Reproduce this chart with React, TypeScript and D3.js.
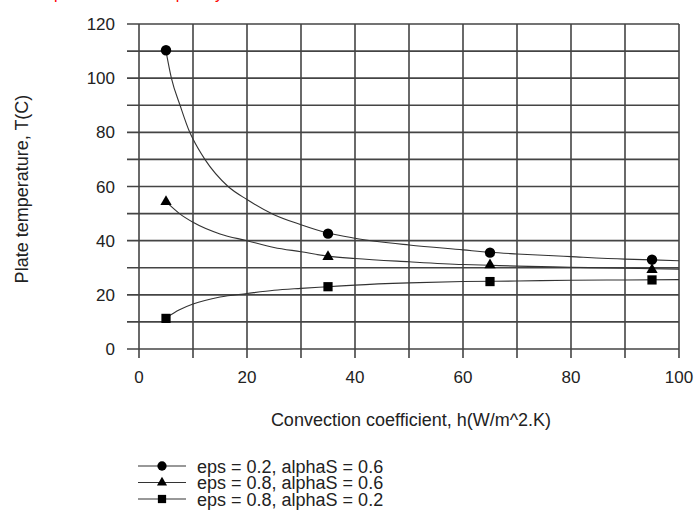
import React, { useEffect, useRef } from "react";
import * as d3 from "d3";

// curve points: [h, T]
const curveA: [number, number][] = [
  [5, 110], [6, 100], [7.6, 90], [9.4, 80], [10, 77.5], [12.2, 70], [16.5, 60],
  [20, 55.2], [25, 49.6], [30, 45.9], [35, 42.8], [40, 40.9], [50, 38.4],
  [60, 36.6], [65, 35.7], [70, 35.1], [80, 34.1], [90, 33.2], [95, 32.9], [100, 32.6],
];
const curveB: [number, number][] = [
  [5, 54.4], [7.5, 50], [10, 46.8], [15, 42.5], [20, 40], [25, 37.5], [30, 35.9],
  [35, 34.3], [40, 33.4], [50, 32.2], [60, 31.2], [65, 30.9], [70, 30.6],
  [80, 30.2], [90, 29.8], [100, 29.5],
];
const curveC: [number, number][] = [
  [5, 11.5], [7.5, 14.5], [10, 16.6], [15, 19.2], [20, 20.5], [25, 21.7], [30, 22.4],
  [35, 23.0], [40, 23.6], [50, 24.4], [60, 24.9], [70, 25.1], [80, 25.4],
  [90, 25.5], [100, 25.6],
];

const markerX = [5, 35, 65, 95];
const markersA = [110.3, 42.6, 35.6, 33.0];
const markersB = [54.4, 34.1, 31.0, 29.3];
const markersC = [11.3, 23.0, 24.9, 25.5];

const seriesNames = [
  "eps = 0.2, alphaS = 0.6",
  "eps = 0.8, alphaS = 0.6",
  "eps = 0.8, alphaS = 0.2",
];
const symbols = [d3.symbolCircle, d3.symbolTriangle, d3.symbolSquare];

const xTicks = [0, 20, 40, 60, 80, 100];
const yTicks = [0, 20, 40, 60, 80, 100, 120];
const gridX = d3.range(0, 101, 10);
const gridY = d3.range(0, 121, 10);

const FONT = "'Liberation Sans', Arial, sans-serif";

export default function App() {
  const svgRef = useRef<SVGSVGElement>(null);

  useEffect(() => {
    const svg = d3.select(svgRef.current);
    svg.selectAll("*").remove();

    const x = d3.scaleLinear().domain([0, 100]).range([139, 679]);
    const y = d3.scaleLinear().domain([0, 120]).range([349, 24]);

    // red caption clipped by the top edge, only descenders show
    svg.append("text")
      .attr("x", 54).attr("y", -0.8)
      .attr("font-family", FONT).attr("font-size", 16)
      .attr("fill", "red")
      .text("problem solution plot by");

    const grid = svg.append("g").attr("stroke", "#444").attr("stroke-width", 1.6);
    grid.selectAll(".vx").data(gridX).enter().append("line")
      .attr("x1", (d) => x(d)).attr("x2", (d) => x(d))
      .attr("y1", y(120)).attr("y2", y(0) + 9);
    grid.selectAll(".hy").data(gridY).enter().append("line")
      .attr("x1", x(0) - 12).attr("x2", x(100))
      .attr("y1", (d) => y(d)).attr("y2", (d) => y(d));

    // tick labels
    svg.append("g")
      .selectAll("text").data(yTicks).enter().append("text")
      .attr("x", 115).attr("y", (d) => y(d)).attr("dy", "0.36em")
      .attr("text-anchor", "end")
      .attr("font-family", FONT).attr("font-size", 17).attr("fill", "#222")
      .text((d) => d);
    svg.append("g")
      .selectAll("text").data(xTicks).enter().append("text")
      .attr("x", (d) => x(d)).attr("y", 383)
      .attr("text-anchor", "middle")
      .attr("font-family", FONT).attr("font-size", 17).attr("fill", "#222")
      .text((d) => d);

    svg.append("text")
      .attr("x", 411).attr("y", 426)
      .attr("text-anchor", "middle")
      .attr("font-family", FONT).attr("font-size", 18).attr("fill", "#222")
      .text("Convection coefficient, h(W/m^2.K)");
    svg.append("text")
      .attr("transform", "translate(28,189) rotate(-90)")
      .attr("text-anchor", "middle")
      .attr("font-family", FONT).attr("font-size", 18).attr("fill", "#222")
      .text("Plate temperature, T(C)");

    const line = d3.line<[number, number]>()
      .x((d) => x(d[0])).y((d) => y(d[1]))
      .curve(d3.curveMonotoneX);

    const curves = [curveA, curveB, curveC];
    const marks = [markersA, markersB, markersC];
    const sizes = [85, 55, 85];

    curves.forEach((c, i) => {
      svg.append("path").datum(c)
        .attr("d", line)
        .attr("fill", "none").attr("stroke", "#333").attr("stroke-width", 1.1);
      svg.append("g").selectAll("path").data(marks[i]).enter().append("path")
        .attr("transform", (d, j) => `translate(${x(markerX[j])},${y(d)})`)
        .attr("d", d3.symbol().type(symbols[i]).size(sizes[i])())
        .attr("fill", "#000");
    });

    // legend
    const legend = svg.append("g");
    seriesNames.forEach((name, i) => {
      const ly = 466 + i * 16.5;
      legend.append("line")
        .attr("x1", 138).attr("x2", 186).attr("y1", ly).attr("y2", ly)
        .attr("stroke", "#333").attr("stroke-width", 1.1);
      legend.append("path")
        .attr("transform", `translate(162,${ly})`)
        .attr("d", d3.symbol().type(symbols[i]).size(sizes[i] * 0.8)())
        .attr("fill", "#000");
      legend.append("text")
        .attr("x", 197).attr("y", ly + 6.5)
        .attr("font-family", FONT).attr("font-size", 18).attr("fill", "#222")
        .text(name);
    });
  }, []);

  return (
    <div style={{ position: "absolute", left: 0, top: 0 }}>
      <svg ref={svgRef} width={694} height={512} style={{ display: "block", background: "#fff" }} />
    </div>
  );
}
